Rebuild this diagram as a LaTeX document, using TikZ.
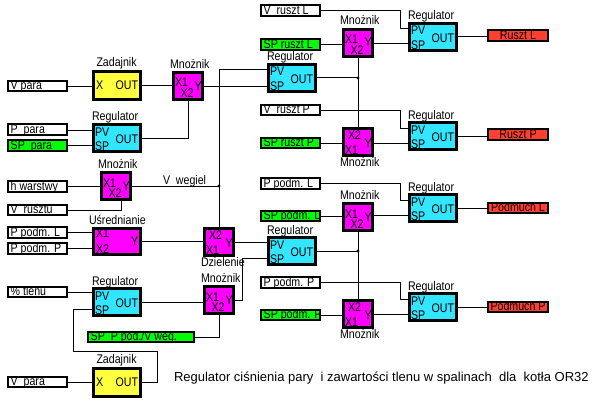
\documentclass[tikz,border=0pt]{standalone}
\usepackage{fontspec}
\setmainfont{Liberation Sans}[FakeStretch=0.85]
\newfontfamily\capfont{Liberation Sans}
\definecolor{regc}{RGB}{51,230,255}
\definecolor{mulc}{RGB}{255,0,255}
\definecolor{zadc}{RGB}{255,255,64}
\definecolor{spc}{RGB}{0,255,0}
\definecolor{outc}{RGB}{255,64,48}
\tikzset{
  every node/.style={font=\fontsize{12.5}{14}\selectfont},
  blk/.style={draw, line width=2.6pt, inner sep=0pt, outer sep=0pt},
  regbox/.style={blk, fill=regc, minimum width=47.4pt, minimum height=27.4pt},
  mulbox/.style={blk, fill=mulc, minimum width=29.4pt, minimum height=27.4pt},
  zadbox/.style={blk, fill=zadc, minimum width=47.4pt, minimum height=28.4pt},
  avgbox/.style={blk, fill=mulc, minimum width=47.4pt, minimum height=26.4pt},
  tag/.style={inner sep=0pt, outer sep=0pt, anchor=base west},
  tagr/.style={tag, anchor=base east},
  io/.style={draw, line width=2.2pt, inner xsep=2.6pt, inner ysep=0pt, outer sep=0pt,
    minimum height=10.6pt, text height=8.6pt, text depth=1.2pt, fill=white},
  spbox/.style={io, fill=spc},
  outbox/.style={io, fill=outc},
  wire/.style={line width=1pt},
  jdot/.style={fill=black}
}
\newcommand\lft[1]{\makebox[53.6pt][l]{#1}}
\newcommand\ctr[1]{\makebox[54.6pt][c]{#1}}
\newcommand\RegB[3]{%
  \node[regbox] (#1) at (#2+25,#3+15) {};
  \node[tag] (#1-t) at (#2,#3-2) {Regulator};
  \node[tag] (#1-a) at (#2+3,#3+13) {PV};
  \node[tag] (#1-b) at (#2+3,#3+27.5) {SP};
  \node[tagr] (#1-c) at (#2+46,#3+20.5) {OUT};
  \coordinate (#1-PV) at (#2,#3+7);
  \coordinate (#1-SP) at (#2,#3+22);
  \coordinate (#1-O) at (#2+50,#3+15);
}
\newcommand\MulB[3]{%
  \node[mulbox] (#1) at (#2+16,#3+15) {};
  \node[tag] (#1-t) at (#2-2,#3-3) {Mnożnik};
  \node[tag] (#1-a) at (#2+3,#3+16) {X1};
  \node[tag] (#1-b) at (#2+8.5,#3+26.5) {X2};
  \node[tag] (#1-c) at (#2+22.5,#3+19) {Y};
}
\newcommand\MulF[4]{%
  \node[mulbox] (#1) at (#2+16,#3+15) {};
  \node[tag] (#1-t) at (#2-2,#3+39) {#4};
  \node[tag] (#1-a) at (#2+6,#3+12) {X2};
  \node[tag] (#1-b) at (#2+3,#3+27) {X1};
  \node[tag] (#1-c) at (#2+22.5,#3+20) {Y};
}
\newcommand\ZadB[3]{%
  \node[zadbox] (#1) at (#2+25,#3+15.5) {};
  \node[tag] (#1-t) at (#2+4.5,#3-3.5) {Zadajnik};
  \node[tag] (#1-a) at (#2+4,#3+19) {X};
  \node[tagr] (#1-c) at (#2+46,#3+19) {OUT};
}
\begin{document}
\begin{tikzpicture}[x=1pt,y=-1pt]
\fill[white] (0,0) rectangle (597,404);
\useasboundingbox (0,0) rectangle (597,404);

% ---- input boxes, left
\node[io] (vpara1) at (37.5,86) {\lft{V para}};
\node[io] (ppara) at (37.5,129.5) {\lft{P\ \ para}};
\node[spbox] (sppara) at (37.5,145.5) {\lft{SP\ \ para}};
\node[io] (hwar) at (37.5,186.5) {\lft{h warstwy}};
\node[io] (vrusztu) at (37.5,210) {\lft{V\ \ rusztu}};
\node[io] (ppodmL1) at (37.5,232.5) {\lft{P podm. L}};
\node[io] (ppodmP1) at (37.5,248.5) {\lft{P podm. P}};
\node[io] (tlen) at (37.5,292) {\lft{\% tlenu}};
\node[io] (vpara2) at (37.5,382) {\lft{V\ \ para}};
\node[spbox] (spppv) at (141,337) {\makebox[100.6pt][l]{SP\ \ P pod./V weg.}};

% ---- input boxes, middle
\node[io] (vrusztL) at (290.5,10.5) {\lft{V\ \ ruszt L}};
\node[spbox] (sprusztL) at (290.5,44.5) {\lft{SP ruszt L}};
\node[io] (vrusztP) at (290.5,110) {\lft{V\ \ ruszt P}};
\node[spbox] (sprusztP) at (290.5,143) {\lft{SP ruszt P}};
\node[io] (ppodmL2) at (290.5,183.5) {\lft{P podm. L}};
\node[spbox] (sppodmL) at (290.5,216) {\lft{SP podm. L}};
\node[io] (ppodmP2) at (290.5,282.5) {\lft{P podm. P}};
\node[spbox] (sppodmP) at (290.5,315) {\lft{SP podm. P}};

% ---- outputs
\node[outbox] (oRL) at (518,35.5) {\ctr{Ruszt L}};
\node[outbox] (oRP) at (518,134.5) {\ctr{Ruszt P}};
\node[outbox] (oPL) at (518,208) {\ctr{Podmuch L}};
\node[outbox] (oPP) at (518,307) {\ctr{Podmuch P}};

% ---- blocks
\ZadB{zad1}{92}{70}
\ZadB{zad2}{92}{367}
\RegB{regA}{92}{123}
\RegB{regB}{92}{287}
\RegB{regC}{267}{63}
\RegB{regD}{267}{236}
\RegB{regE}{408}{22}
\RegB{regF}{408}{121}
\RegB{regG}{408}{193}
\RegB{regH}{408}{292}
\MulB{m1}{172}{71}
\MulB{m2}{100}{171}
\MulB{m3}{203}{285}
\MulB{m4}{342}{28}
\MulB{m6}{342}{202}
\MulF{m5}{342}{127}{Mnożnik}
\MulF{m7}{342}{299}{Mnożnik}
\MulF{dz}{203}{227}{Dzielenie}
\node[avgbox] (usr) at (117,241.5) {};
\node[tag] (usr-t) at (89,224) {Uśrednianie};
\node[tag] (usr-a) at (96,237.5) {X1};
\node[tag] (usr-b) at (96,253) {X2};
\node[tag] (usr-c) at (131,245) {Y};

% ---- connectors, left part
\draw[wire] (vpara1.east) -- (vpara1.east -| zad1.west);
\draw[wire] (zad1.east) -- (zad1.east -| m1.west);
\draw[wire] (ppara.east |- regA-PV) -- (regA-PV);
\draw[wire] (sppara.east |- regA-SP) -- (regA-SP);
\draw[wire] (regA-O) -| (m1.south);
\draw[wire] (m1.east) -- (m1.east -| regC.west);
\draw[wire] (hwar.east) -- (hwar.east -| m2.west);
\draw[wire] (vrusztu.east) -| ([xshift=5pt]m2.south);
\coordinate (J) at (dz.north |- m2.east);
\draw[wire] (m2.east) -- (J);
\draw[wire] (dz.north) |- (regC-PV);
\fill[jdot] (J) circle (1.6pt);
\node[tag] (vw) at (163,184) {V\ \ wegiel};
\draw[wire] (ppodmL1.east) -- (ppodmL1.east -| usr.west);
\draw[wire] (ppodmP1.east) -- (ppodmP1.east -| usr.west);
\draw[wire] (usr.east) -- (usr.east -| dz.west);
\draw[wire] (dz.east) -- (dz.east -| regD.west);
\draw[wire] (tlen.east) -- (tlen.east -| regB.west);
\draw[wire] (regB-O) -- (regB-O -| m3.west);
\draw[wire] (m3.east) -- ++(9,0) |- (regD-SP);
\draw[wire] (spppv.east) -| (m3.south);
\coordinate (c1) at (157,351);
\coordinate (c2) at (73,351);
\draw[wire] (zad2.east) -| (c1) -- (c2) |- (regB-SP);
\draw[wire] (vpara2.east) -- (vpara2.east -| zad2.west);

% ---- connectors, right part
\draw[wire] (vrusztL.east) -| ([xshift=-8pt]regE-PV) -- (regE-PV);
\draw[wire] (sprusztL.east) -- (sprusztL.east -| m4.west);
\draw[wire] (m4.east |- regE-SP) -- (regE-SP);
\draw[wire] (regE-O) -- (regE-O -| oRL.west);
\draw[wire] (m4.south) -- (m5.north);
\draw[wire] (regC-O) -- (regC-O -| m4.south);
\fill[jdot] (regC-O -| m4.south) circle (1.6pt);
\draw[wire] (vrusztP.east) -| ([xshift=-8pt]regF-PV) -- (regF-PV);
\draw[wire] (sprusztP.east) -- (sprusztP.east -| m5.west);
\draw[wire] (m5.east |- regF-SP) -- (regF-SP);
\draw[wire] (regF-O) -- (regF-O -| oRP.west);
\draw[wire] (ppodmL2.east) -| ([xshift=-8pt]regG-PV) -- (regG-PV);
\draw[wire] (sppodmL.east) -- (sppodmL.east -| m6.west);
\draw[wire] (m6.east |- regG-SP) -- (regG-SP);
\draw[wire] (regG-O) -- (regG-O -| oPL.west);
\draw[wire] (m6.south) -- (m7.north);
\draw[wire] (regD-O) -- (regD-O -| m6.south);
\fill[jdot] (regD-O -| m6.south) circle (1.6pt);
\draw[wire] (ppodmP2.east) -| ([xshift=-8pt]regH-PV) -- (regH-PV);
\draw[wire] (sppodmP.east) -- (sppodmP.east -| m7.west);
\draw[wire] (m7.east |- regH-SP) -- (regH-SP);
\draw[wire] (regH-O) -- (regH-O -| oPP.west);

% ---- caption
\node[tag, font=\capfont\fontsize{13}{15}\selectfont] (cap) at (174,381)
  {Regulator ciśnienia pary\ \ i zawartości tlenu w spalinach\ \ dla\ \ kotła OR32};
\end{tikzpicture}
\end{document}
